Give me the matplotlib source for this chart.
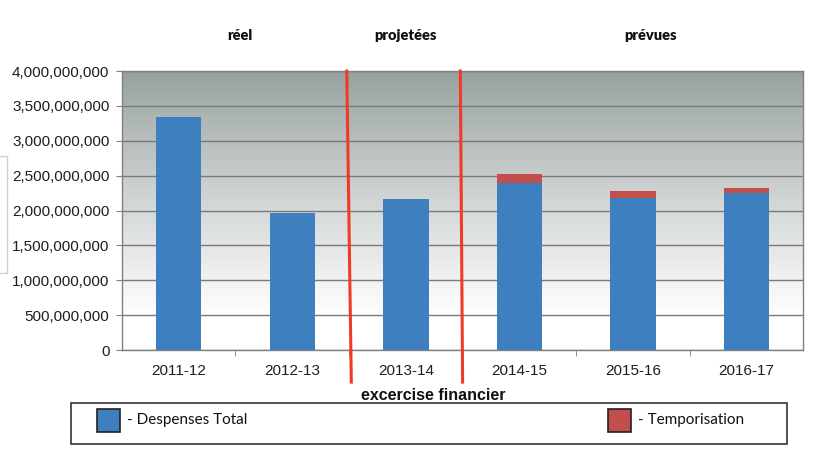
import numpy as np
import matplotlib.pyplot as plt
from matplotlib.patches import Rectangle
from matplotlib.ticker import FuncFormatter, MultipleLocator

# data
years = ['2011-12', '2012-13', '2013-14', '2014-15', '2015-16', '2016-17']
total = [3.34e9, 1.96e9, 2.16e9, 2.40e9, 2.18e9, 2.25e9]
tempo = [0, 0, 0, 0.13e9, 0.10e9, 0.07e9]
periods = ['réel', 'projetées', 'prévues']

blue = '#3e7fbf'
red = '#c24f4b'

fig = plt.figure(figsize=(8.13, 4.5), dpi=100)
ax = fig.add_axes([0.150, 0.2222, 0.838, 0.6200])

x = np.arange(len(years))

# gradient background (gray at top fading to white)
top = np.array([150, 160, 158]) / 255.
frac = np.linspace(0, 1, 256)
w = np.clip(frac / 0.88, 0, 1) ** 0.9
grad = top[None, :] * (1 - w[:, None]) + w[:, None]
ax.imshow(grad[:, None, :], aspect='auto', extent=(-0.5, 5.5, 0, 4e9),
          origin='upper', zorder=0, interpolation='bicubic')

ax.bar(x, total, width=0.4, color=blue, zorder=3)
ax.bar(x, tempo, width=0.4, bottom=total, color=red, zorder=3)

ax.set_xlim(-0.5, 5.5)
ax.set_ylim(0, 4e9)
ax.yaxis.set_major_locator(MultipleLocator(5e8))
ax.yaxis.set_major_formatter(FuncFormatter(lambda v, p: f'{v:,.0f}'))
ax.grid(axis='y', color='#7a7a7a', linewidth=1.0, zorder=1)
ax.set_axisbelow(True)

ax.set_xticks(x)
ax.set_xticklabels(years)
ax.set_xticks(x[:-1] + 0.5, minor=True)
ax.tick_params(axis='x', which='major', length=0, pad=10)
ax.tick_params(axis='x', which='minor', length=4, color='#808080')
ax.tick_params(axis='y', length=4, color='#808080', pad=5)
for lab in ax.get_xticklabels() + ax.get_yticklabels():
    lab.set_fontfamily('Liberation Sans')
    lab.set_fontsize(11)
    lab.set_color('#1e1e1e')
for side in ['left', 'bottom', 'right', 'top']:
    ax.spines[side].set_color('#808080')
    ax.spines[side].set_linewidth(1.0)

# red separators between periods
for x0, x1 in [(1.48, 1.52), (2.48, 2.50)]:
    ax.plot([x0, x1], [1.0, -0.115], color='#f03a25', lw=2.2,
            transform=ax.get_xaxis_transform(), clip_on=False, zorder=5)

# period labels
for px, txt in zip([240, 405, 650], periods):
    fig.text(px / 813, 1 - 35 / 450, txt, ha='center', va='center',
             fontfamily='Lato', fontweight='heavy', fontsize=10.5, color='#111111')

fig.text(433 / 813, 1 - 396 / 450, 'excercise financier', ha='center', va='center',
         fontfamily='Liberation Sans', fontweight='bold', fontsize=11.5, color='#111111')

# legend box
fig.patches.append(Rectangle((71 / 813, 1 - 444 / 450), (787 - 71) / 813, 41 / 450,
                             transform=fig.transFigure, fill=False,
                             edgecolor='#333333', lw=1.2))
for px, col, lab in [(97, blue, '- Despenses Total'), (608, red, '- Temporisation')]:
    fig.patches.append(Rectangle((px / 813, 1 - 432 / 450), 23 / 813, 23 / 450,
                                 transform=fig.transFigure, facecolor=col,
                                 edgecolor='#222222', lw=1.2))
    fig.text((px + 30) / 813, 1 - 420 / 450, lab, ha='left', va='center',
             fontfamily='Lato', fontsize=11, color='#111111')

# faint leftover box at left edge
fig.patches.append(Rectangle((-0.01, 1 - 273 / 450), 0.018, 117 / 450,
                             transform=fig.transFigure, fill=False,
                             edgecolor='#d0d0d0', lw=1.0))

fig.savefig('out.png', dpi=100)
